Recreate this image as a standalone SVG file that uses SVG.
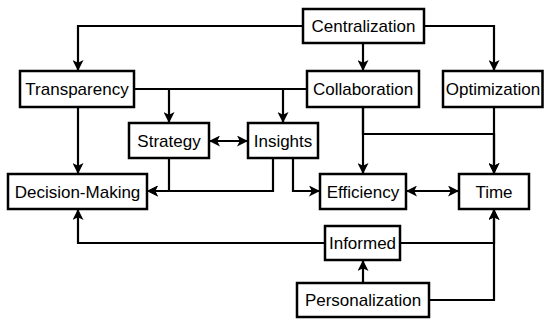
<svg xmlns="http://www.w3.org/2000/svg" width="544" height="320" viewBox="0 0 544 320">
<defs>
<marker id="ah" viewBox="0 0 10 10" refX="10" refY="5" markerWidth="11" markerHeight="11" markerUnits="userSpaceOnUse" orient="auto-start-reverse">
<path d="M0,0 L10,5 L0,10 L2.5,5 z" fill="#000"/>
</marker>
</defs>
<style>
.box{fill:#fff;stroke:#000;stroke-width:2.5}
.lbl{font-family:"Liberation Sans",Arial,sans-serif;font-size:17px;fill:#000;text-anchor:middle}
.c{fill:none;stroke:#000;stroke-width:2.2;marker-end:url(#ah)}
.b{marker-start:url(#ah)}
</style>
<rect width="544" height="320" fill="#fff"/>
<g id="connectors">
<path class="c" d="M303,26 H78 V71"/>
<path class="c" d="M363,43 V71"/>
<path class="c" d="M424,26 H494 V71"/>
<path class="c" d="M134,89 H283 V123"/>
<path class="c" d="M307,89 H169 V123"/>
<path class="c" d="M78,107 V174"/>
<path class="c b" d="M209,141 H248"/>
<path class="c" d="M169,158 V191 H147"/>
<path class="c" d="M273,158 V191 H147"/>
<path class="c" d="M293,158 V191 H320"/>
<path class="c" d="M363,107 V174"/>
<path class="c" d="M494,107 V174"/>
<path class="c" d="M363,107 V134 H494 V174"/>
<path class="c b" d="M406,191 H459"/>
<path class="c" d="M325,243 H78 V209"/>
<path class="c" d="M400,243 H494 V209"/>
<path class="c" d="M363,283 V260"/>
<path class="c" d="M429,300 H494 V209"/>
</g>
<g id="centralization"><rect class="box" x="303" y="9" width="121" height="34"/><text class="lbl" x="363.5" y="32">Centralization</text></g>
<g id="transparency"><rect class="box" x="20" y="71" width="114" height="36"/><text class="lbl" x="77" y="95">Transparency</text></g>
<g id="collaboration"><rect class="box" x="307" y="71" width="112" height="36"/><text class="lbl" x="363" y="95">Collaboration</text></g>
<g id="optimization"><rect class="box" x="443" y="71" width="99.5" height="36"/><text class="lbl" x="493" y="95">Optimization</text></g>
<g id="strategy"><rect class="box" x="129" y="123" width="80" height="35"/><text class="lbl" x="169" y="146.5">Strategy</text></g>
<g id="insights"><rect class="box" x="248" y="123" width="70" height="35"/><text class="lbl" x="283" y="146.5">Insights</text></g>
<g id="decision-making"><rect class="box" x="8" y="174" width="139" height="35"/><text class="lbl" x="77.5" y="197.5">Decision-Making</text></g>
<g id="efficiency"><rect class="box" x="320" y="174" width="86" height="35"/><text class="lbl" x="363" y="197.5">Efficiency</text></g>
<g id="time"><rect class="box" x="459" y="174" width="70" height="35"/><text class="lbl" x="494" y="197.5">Time</text></g>
<g id="informed"><rect class="box" x="325" y="226" width="75" height="34"/><text class="lbl" x="362.5" y="249">Informed</text></g>
<g id="personalization"><rect class="box" x="297" y="283" width="132" height="34"/><text class="lbl" x="363" y="306">Personalization</text></g>
</svg>
